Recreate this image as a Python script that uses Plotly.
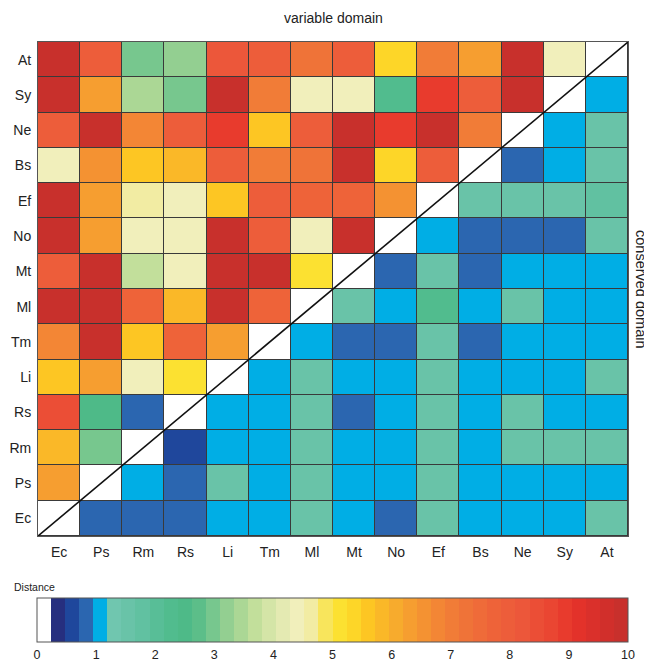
import plotly.graph_objects as go

# ---------------- data ----------------
categories = ["Ec", "Ps", "Rm", "Rs", "Li", "Tm", "Ml", "Mt", "No", "Ef", "Bs", "Ne", "Sy", "At"]

# rows listed top (At) to bottom (Ec); columns Ec..At
row_At = [9.85, 8.0, 2.95, 3.15, 8.1, 8.0, 7.2, 8.0, 5.4, 7.1, 6.4, 9.85, 4.3, 0]
row_Sy = [9.85, 6.2, 3.5, 2.95, 9.85, 7.0, 4.3, 4.3, 2.2, 9.0, 8.0, 9.85, 0, 1.05]
row_Ne = [8.0, 9.85, 6.9, 8.0, 8.9, 5.5, 8.0, 9.85, 9.0, 9.85, 7.0, 0, 1.05, 1.5]
row_Bs = [4.3, 6.6, 5.5, 5.8, 8.0, 7.0, 7.3, 9.85, 5.3, 8.0, 0, 0.8, 1.05, 1.5]
row_Ef = [9.85, 6.4, 4.7, 4.3, 5.5, 8.0, 7.8, 7.8, 6.6, 0, 1.5, 1.5, 1.5, 1.7]
row_No = [9.85, 6.3, 4.3, 4.3, 9.85, 8.0, 4.3, 9.85, 0, 1.05, 0.8, 0.8, 0.8, 1.5]
row_Mt = [8.0, 9.85, 3.7, 4.3, 9.85, 9.85, 5.2, 0, 0.8, 1.5, 0.8, 1.05, 1.05, 1.05]
row_Ml = [9.85, 9.85, 7.8, 5.9, 9.85, 7.8, 0, 1.5, 1.05, 2.3, 1.05, 1.5, 1.05, 1.05]
row_Tm = [6.8, 9.85, 5.6, 7.8, 6.3, 0, 1.05, 0.8, 0.8, 1.5, 0.8, 1.05, 1.05, 1.05]
row_Li = [5.7, 6.3, 4.3, 5.1, 0, 1.05, 1.5, 1.05, 1.05, 1.5, 1.05, 1.05, 1.05, 1.5]
row_Rs = [8.4, 2.4, 0.8, 0, 1.05, 1.05, 1.5, 0.8, 1.05, 1.5, 1.05, 1.5, 1.05, 1.05]
row_Rm = [5.8, 2.9, 0, 0.55, 1.05, 1.05, 1.5, 1.05, 1.05, 1.6, 1.05, 1.5, 1.5, 1.5]
row_Ps = [6.2, 0, 1.05, 0.75, 1.5, 1.05, 1.5, 1.05, 1.05, 1.5, 1.05, 1.05, 1.05, 1.05]
row_Ec = [0, 0.8, 0.8, 0.8, 1.05, 1.05, 1.5, 1.05, 0.8, 1.5, 1.05, 1.05, 1.05, 1.5]

z_top_down = [row_At, row_Sy, row_Ne, row_Bs, row_Ef, row_No, row_Mt,
              row_Ml, row_Tm, row_Li, row_Rs, row_Rm, row_Ps, row_Ec]
z = list(reversed(z_top_down))  # bottom (Ec) first for plotly

colorbar_ticks = [0, 1, 2, 3, 4, 5, 6, 7, 8, 9, 10]

# ---------------- discrete colour scale ----------------
ZMAX = 10.0
NSEG = 42
w = ZMAX / NSEG
fixed = ["#ffffff", "#262f7f", "#1f479c", "#2b66b0", "#00aee5"]
anchors = [
    (1.19, "#74c7b2"), (1.7, "#64c2a4"), (2.2, "#52bc90"), (2.6, "#4db985"),
    (2.9, "#6ec48d"), (3.3, "#9dd292"), (3.7, "#c3df9b"), (4.1, "#e0e9b0"),
    (4.4, "#f1efbb"), (4.75, "#f2ea98"), (4.95, "#fbe23c"), (5.2, "#fde12b"),
    (5.6, "#fdc623"), (6.1, "#f7a92e"), (6.6, "#f48f33"), (7.1, "#f07838"),
    (7.7, "#ee6439"), (8.2, "#ec573a"), (8.7, "#ea4632"), (9.1, "#e6322a"),
    (9.6, "#d32f2b"), (10.0, "#c3302c"),
]


def hex2rgb(h):
    h = h.lstrip("#")
    return tuple(int(h[i:i + 2], 16) for i in (0, 2, 4))


def interp(v):
    if v <= anchors[0][0]:
        return hex2rgb(anchors[0][1])
    for (a, ca), (b, cb) in zip(anchors[:-1], anchors[1:]):
        if a <= v <= b:
            t = (v - a) / (b - a)
            ra, rb = hex2rgb(ca), hex2rgb(cb)
            return tuple(round(ra[i] + t * (rb[i] - ra[i])) for i in range(3))
    return hex2rgb(anchors[-1][1])


seg_colors = []
for k in range(NSEG):
    if k < len(fixed):
        seg_colors.append(fixed[k])
    else:
        r, g, b = interp((k + 0.5) * w)
        seg_colors.append(f"rgb({r},{g},{b})")

colorscale = []
for k, c in enumerate(seg_colors):
    colorscale.append([k / NSEG, c])
    colorscale.append([(k + 1) / NSEG, c])

# ---------------- figure ----------------
# the page body adds an 8px margin, so the figure is 8px smaller than the window
W, H = 644, 656
ML, MR, MT, MB = 30, 24, 34, 128
pw, ph = W - ML - MR, H - MT - MB
plot_bottom = H - MB


def py(y_px):  # figure pixel (from top) -> paper y
    return (plot_bottom - y_px) / ph


def px(x_px):  # figure pixel (from left) -> paper x
    return (x_px - ML) / pw


FONT = "Liberation Sans, Arial, Helvetica, sans-serif"
CB_TOP, CB_THICK = 590, 44

fig = go.Figure(go.Heatmap(
    z=z, x=categories, y=categories,
    zmin=0, zmax=ZMAX, colorscale=colorscale,
    xgap=1, ygap=1, hoverinfo="skip",
    colorbar=dict(
        orientation="h",
        x=px(ML - 1), xanchor="left",
        y=py(CB_TOP), yanchor="top",
        lenmode="pixels", len=pw + 1,
        thicknessmode="pixels", thickness=CB_THICK,
        xpad=0, ypad=0,
        outlinewidth=1, outlinecolor="#555555",
        tickmode="array", tickvals=colorbar_ticks,
        ticktext=[str(t) for t in colorbar_ticks],
        ticks="outside", ticklen=2, tickcolor="rgba(0,0,0,0)", tickwidth=1,
        tickfont=dict(family=FONT, size=12.5, color="#222222"),
    ),
))

n = len(categories)
# diagonal line separating the two triangles
fig.add_shape(type="line", xref="x", yref="y",
              x0=-0.5, y0=-0.5, x1=n - 0.5, y1=n - 0.5,
              line=dict(color="#111111", width=1.6))

# inside tick marks on top and bottom edges of the colour bar
for t in colorbar_ticks[1:-1]:
    xt = px(ML - 1 + t / ZMAX * (pw + 1))
    fig.add_shape(type="line", xref="paper", yref="paper",
                  x0=xt, x1=xt, y0=py(CB_TOP), y1=py(CB_TOP + 6),
                  line=dict(color="#333333", width=1))
    fig.add_shape(type="line", xref="paper", yref="paper",
                  x0=xt, x1=xt, y0=py(CB_TOP + CB_THICK), y1=py(CB_TOP + CB_THICK - 6),
                  line=dict(color="#333333", width=1))

fig.add_annotation(text="variable domain", xref="paper", yref="paper",
                   x=0.5, y=py(10), xanchor="center", yanchor="middle",
                   showarrow=False, font=dict(family=FONT, size=14, color="#222222"))
fig.add_annotation(text="conserved domain", xref="paper", yref="paper",
                   x=px(633), y=0.5, xanchor="center", yanchor="middle",
                   textangle=90, showarrow=False,
                   font=dict(family=FONT, size=14.5, color="#222222"))
fig.add_annotation(text="Distance", xref="paper", yref="paper",
                   x=px(4), y=py(579), xanchor="left", yanchor="middle",
                   showarrow=False, font=dict(family=FONT, size=10.5, color="#222222"))

axis_common = dict(type="category", showgrid=False, zeroline=False, ticks="",
                   showline=True, mirror=True, linecolor="#555555", linewidth=1,
                   tickfont=dict(family=FONT, size=14, color="#222222"))
fig.update_xaxes(**axis_common, categoryorder="array", categoryarray=categories,
                 range=[-0.5, n - 0.5], ticklabelstandoff=3)
fig.update_yaxes(**axis_common, categoryorder="array", categoryarray=categories,
                 range=[-0.5, n - 0.5], ticklabelstandoff=3)

fig.update_layout(
    width=W, height=H,
    margin=dict(l=ML, r=MR, t=MT, b=MB, autoexpand=False),
    paper_bgcolor="white", plot_bgcolor="#3a3a3a",
    font=dict(family=FONT, color="#222222"),
    showlegend=False,
)

fig.write_html("out.html")
